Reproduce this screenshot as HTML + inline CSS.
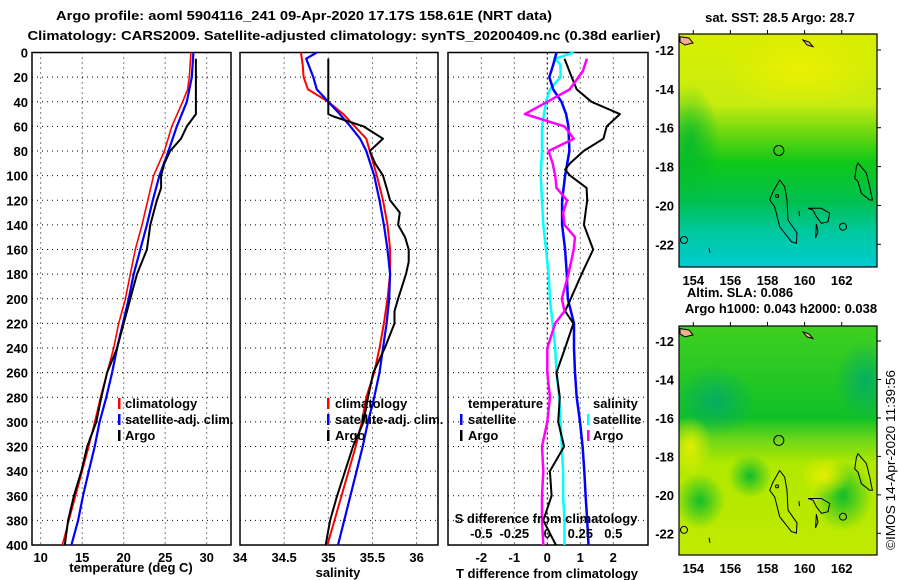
<!DOCTYPE html>
<html><head><meta charset="utf-8"><style>
html,body{margin:0;padding:0;background:#fff;}
svg{display:block;font-family:"Liberation Sans",Arial,sans-serif;}
.t{font-weight:bold;font-size:13px;fill:#000;}
</style></head><body>
<svg id="c" width="900" height="580" viewBox="0 0 900 580" xmlns="http://www.w3.org/2000/svg">
<defs>
<clipPath id="clipTop"><rect x="679" y="34" width="198" height="233"/></clipPath>
<clipPath id="clipBot"><rect x="679" y="326" width="198" height="229"/></clipPath>
<linearGradient id="sstg" x1="0" y1="0" x2="0" y2="1">
<stop offset="0" stop-color="#d8ee00"/><stop offset="0.3" stop-color="#c8ec10"/><stop offset="0.42" stop-color="#70d810"/>
<stop offset="0.55" stop-color="#10c818"/><stop offset="0.72" stop-color="#00c050"/><stop offset="0.85" stop-color="#00c8a0"/><stop offset="1" stop-color="#00ccd0"/></linearGradient>
<radialGradient id="sy" cx="0.5" cy="0.5" r="0.5"><stop offset="0" stop-color="#eef000" stop-opacity="0.9"/><stop offset="1" stop-color="#eef000" stop-opacity="0"/></radialGradient>
<radialGradient id="sg" cx="0.5" cy="0.5" r="0.5"><stop offset="0" stop-color="#00b830" stop-opacity="0.9"/><stop offset="1" stop-color="#00b830" stop-opacity="0"/></radialGradient>
<radialGradient id="sdg" cx="0.5" cy="0.5" r="0.5"><stop offset="0" stop-color="#00a870" stop-opacity="0.8"/><stop offset="1" stop-color="#00a870" stop-opacity="0"/></radialGradient>
<linearGradient id="slag" x1="0" y1="0" x2="0" y2="1">
<stop offset="0" stop-color="#40d020"/><stop offset="0.4" stop-color="#10c028"/><stop offset="0.5" stop-color="#70d818"/><stop offset="0.6" stop-color="#b0e800"/><stop offset="1" stop-color="#c0ea00"/></linearGradient>
<g id="coast" fill="none" stroke="#000" stroke-width="1">
<path d="M100.7,146 L105.7,152.7 L108,166 L109,186 L118,199 L117.4,209.3 L112.4,207.7 L100.7,192.7 L95.7,172.7 L90.7,166 L94,157.7 Z"/>
<path d="M179,129 L187.4,139 L190.7,152.7 L193.4,166 L190.7,166 L182.4,159.3 L179,147.7 L175.7,144.3 L177.4,132.7 Z"/>
<path d="M129,174.3 L142.4,174.3 L150.7,179.3 L149,187.7 L142.4,189.3 L137.4,182.7 L134,176 Z"/>
<path d="M137.4,190 L139,198 L136.5,204 Z"/>
<circle cx="164" cy="192.7" r="3.5"/><circle cx="5" cy="206" r="3.5"/><circle cx="98" cy="162" r="1.5"/>
<path d="M1,2.7 L10,4 L14,9 L6,11 L1,8 Z" fill="#f0b090"/>
<path d="M124,6 L130,8 L134,12.7 L128,11 Z" fill="#f0b090"/>
<path d="M120,177 L120.5,182"/><path d="M30,214 L31,219"/>
</g>
</defs>
<text class="t" x="304" y="20" text-anchor="middle" textLength="496" lengthAdjust="spacingAndGlyphs">Argo profile: aoml 5904116_241 09-Apr-2020 17.17S 158.61E (NRT data)</text>
<text class="t" x="344" y="40" text-anchor="middle" textLength="633" lengthAdjust="spacingAndGlyphs">Climatology: CARS2009. Satellite-adjusted climatology: synTS_20200409.nc (0.38d earlier)</text>
<g id="plots"></g>
<g id="maps"></g>
<text x="895" y="460" font-size="13" text-anchor="middle" transform="rotate(-90 895 460)" textLength="180" lengthAdjust="spacingAndGlyphs">©IMOS 14-Apr-2020 11:39:56</text>
</svg>
<script>
// ---- data ----
const depthTick=[0,20,40,60,80,100,120,140,160,180,200,220,240,260,280,300,320,340,360,380,400];
const tempTicks=[10,15,20,25,30];
const salTicks=[34,34.5,35,35.5,36];
const tdTicks=[-2,-1,0,1,2];
const sdTicks=[-0.5,-0.25,0,0.25,0.5];
const zClim=[0,20,30,40,60,80,100,120,140,160,180,200,220,240,260,280,300,320,340,360,380,400];
const tClim=[28.1,27.9,27.7,27.1,25.8,24.9,23.6,22.9,22.2,21.4,20.8,20.2,19.4,18.8,18.0,17.2,16.5,15.8,15.0,14.2,13.4,12.6];
const zSat=[0,20,40,60,80,100,120,140,160,180,200,220,240,260,280,300,320,340,360,380,400];
const tSat=[28.4,28.2,27.6,26.4,25.4,24.3,23.5,22.8,22.0,21.2,20.6,19.9,19.2,18.6,17.9,17.1,16.5,15.8,15.1,14.5,13.7];
const zArgoT=[5,50,60,70,80,90,100,110,120,140,160,180,200,220,240,260,280,300,320,340,360,380,400];
const tArgo=[28.7,28.7,27.6,26.9,25.6,24.9,24.5,24.5,24.0,23.2,22.8,21.6,20.8,20.0,19.2,18.0,17.3,16.7,15.6,14.9,14.0,13.3,12.9];
const zSClim=[0,10,20,30,40,50,60,70,80,100,120,140,160,180,200,220,240,260,280,300,320,340,360,380,400];
const sClim=[34.69,34.71,34.72,34.77,35.0,35.17,35.30,35.43,35.47,35.55,35.62,35.67,35.70,35.70,35.67,35.63,35.58,35.52,35.43,35.38,35.31,35.23,35.15,35.07,34.99];
const zSSat=[0,5,20,30,40,50,60,70,80,100,120,140,160,180,200,220,240,260,280,300,320,340,360,380,400];
const sSat=[34.87,34.75,34.83,34.87,35.0,35.13,35.25,35.36,35.43,35.52,35.58,35.63,35.67,35.70,35.69,35.66,35.62,35.58,35.52,35.45,35.39,35.32,35.25,35.18,35.11];
const zArgoS=[5,50,52,60,70,80,90,100,110,120,130,140,150,160,170,180,200,210,220,240,260,280,300,320,340,360,380,400];
const sArgo=[35.0,35.0,35.06,35.40,35.62,35.47,35.53,35.62,35.66,35.70,35.81,35.79,35.87,35.91,35.91,35.88,35.79,35.75,35.75,35.64,35.51,35.45,35.40,35.28,35.19,35.10,35.02,34.97];
const tdSat=[0.28,0.18,0.06,0.18,0.43,0.57,0.64,0.67,0.54,0.45,0.45,0.54,0.59,0.62,0.81,0.81,0.84,0.89,0.99,1.07,1.12,1.16,1.21,1.25];
const zTdSat=[0,10,20,30,40,50,60,80,100,120,140,160,180,200,220,240,260,280,300,320,340,360,380,400];
const zTdArgo=[5,20,30,40,50,60,70,80,90,95,100,110,120,140,160,180,200,210,220,240,260,280,300,320,340,360,380,400];
const tdArgo=[0.52,0.74,0.89,1.34,2.2,1.8,1.7,1.1,0.69,0.54,0.69,1.19,1.21,1.11,1.39,1.04,0.71,0.54,0.79,0.54,0.28,0.38,0.33,0.51,0.08,0.13,-0.12,0.26];
const zSdArgo=[5,15,30,40,50,60,70,80,90,100,110,120,130,140,150,160,180,200,210,220,240,260,280,300,320,340,360,380,400];
const sdArgo=[0.30,0.27,0.17,0.0,-0.17,0.13,0.20,0.01,0.04,0.06,0.07,0.15,0.12,0.13,0.21,0.20,0.16,0.11,0.13,0.06,0.0,0.0,0.02,0.0,-0.04,-0.03,-0.04,-0.04,-0.03];
const zSdSat=[0,5,10,20,30,40,60,80,100,120,140,160,180,200,220,240,260,280,300,320,340,360,380,400];
const sdSat=[0.20,0.06,0.10,0.10,0.02,-0.01,-0.04,-0.04,-0.05,-0.04,-0.03,-0.01,0.01,0.02,0.04,0.06,0.07,0.09,0.10,0.11,0.12,0.12,0.13,0.13];
const mapLonTicks=[154,156,158,160,162];
const mapLatTicks=[-12,-14,-16,-18,-20,-22];
const argoLon=158.61, argoLat=-17.17;

// ---- helpers ----
const NS='http://www.w3.org/2000/svg';
const plots=document.getElementById('plots');
const maps=document.getElementById('maps');
function mk(tag,attrs,parent){const e=document.createElementNS(NS,tag);for(const k in attrs)e.setAttribute(k,attrs[k]);(parent||plots).appendChild(e);return e;}
const Y0=52.5,YB=545;
const yD=d=>Y0+d*(YB-Y0)/400;
const xT=t=>40.7+(t-10)*8.3;
const xS=s=>240+(s-34)*88.3;
const xTd=t=>547.3+t*33;
const xSd=s=>547.3+s*132;

function frame(x0,x1,name,xticks,xf,labels){
  const g=mk('g',{});
  
  
  depthTick.forEach(d=>{ if(d>0&&d<400){const l=mk('line',{x1:x0,x2:x1,y1:yD(d),y2:yD(d),stroke:'#000','stroke-width':1,'stroke-dasharray':'1,4'},g);
    
    }});
  xticks.forEach(v=>{const x=xf(v); if(x>x0+1&&x<x1-1){const l=mk('line',{x1:x,x2:x,y1:Y0,y2:YB,stroke:'#000','stroke-width':1,'stroke-dasharray':'1,4'},g);
    
    }});
  const r=mk('rect',{x:x0,y:Y0,width:x1-x0,height:YB-Y0,fill:'none',stroke:'#000','stroke-width':1.5},g);
  
  
  if(labels) xticks.forEach(v=>{const t=mk('text',{x:xf(v),y:562,'text-anchor':'middle',class:'t'},g);t.textContent=String(v);
    
    });
  return g;
}
function line(xs,zs,xf,color,w,name){
  const pts=xs.map((v,i)=>xf(v).toFixed(1)+','+yD(zs[i]).toFixed(1)).join(' ');
  const p=mk('polyline',{points:pts,fill:'none',stroke:color,'stroke-width':w,'stroke-linejoin':'round'});
  
  
}
function txt(x,y,s,name,anchor,parent){const t=mk('text',{x:x,y:y,class:'t','text-anchor':anchor||'start'},parent);t.textContent=s;
  
  return t;}
function mark(x,y,color,name){const r=mk('rect',{x:x,y:y-9,width:2.5,height:11,fill:color});
  
  }

// panel 1
frame(32,231,'temperature-panel',tempTicks,xT,true);
depthTick.forEach(d=>txt(28,yD(d)+5,String(d),'depth-tick-label','end'));
line(tClim,zClim,xT,'#ff0000',1.6,'temp-climatology-line');
line(tSat,zSat,xT,'#0000ff',2.2,'temp-satellite-line');
line(tArgo,zArgoT,xT,'#000',2,'temp-argo-line');
txt(131,572,'temperature (deg C)','temp-x-axis-title','middle');
// panel 2
frame(240,438,'salinity-panel',salTicks,xS,true);
line(sClim,zSClim,xS,'#ff0000',2,'sal-climatology-line');
line(sSat,zSSat,xS,'#0000ff',2.2,'sal-satellite-line');
line(sArgo,zArgoS,xS,'#000',2,'sal-argo-line');
txt(338,577,'salinity','sal-x-axis-title','middle');
// legends 1,2
[[118,125],[327,335]].forEach(([mx,tx],k)=>{
  mark(mx,407,'#ff0000','legend-mark-climatology');txt(tx,408,'climatology','legend-climatology');
  mark(mx,423,'#0000ff','legend-mark-satellite');txt(tx,424,'satellite-adj. clim.','legend-satellite');
  mark(mx,439,'#000','legend-mark-argo');txt(tx,440,'Argo','legend-argo');
});
// panel 3
frame(448,648,'difference-panel',tdTicks,xTd,true);
const z0=mk('line',{x1:xTd(0),x2:xTd(0),y1:Y0,y2:YB,stroke:'#000','stroke-width':1,'stroke-dasharray':'2,3'});


line(sdSat,zSdSat,xSd,'#00ffff',2.5,'sal-diff-satellite-line');
line(tdSat,zTdSat,xTd,'#0000ff',2.5,'temp-diff-satellite-line');
line(tdArgo,zTdArgo,xTd,'#000',2,'temp-diff-argo-line');
line(sdArgo,zSdArgo,xSd,'#ff00ff',2.5,'sal-diff-argo-line');
sdTicks.forEach(v=>txt(xSd(v),538,String(v),'s-diff-tick-label','middle'));
txt(546,523,'S difference from climatology','s-diff-axis-title','middle');
txt(547,578,'T difference from climatology','t-diff-axis-title','middle');
txt(468,408,'temperature','legend-temperature-heading');
mark(460,423,'#0000ff','legend-mark-t-satellite');txt(468,424,'satellite','legend-t-satellite');
mark(460,439,'#000','legend-mark-t-argo');txt(468,440,'Argo','legend-t-argo');
txt(593,408,'salinity','legend-salinity-heading');
mark(587,423,'#00ffff','legend-mark-s-satellite');txt(593,424,'satellite','legend-s-satellite');
mark(587,439,'#ff00ff','legend-mark-s-argo');txt(593,440,'Argo','legend-s-argo');

// maps
function map(y0,y1,latTop,latScale,name,sla,clip){
  const X0=679,X1=877;
  const g=mk('g',{},maps);
  
  
  const xL=lon=>693.3+(lon-154)*18.55;
  const yL=lat=>latTop+(-12-lat)*latScale;
  const f=mk('g',{'clip-path':`url(#${clip})`},g);
  mk('rect',{x:X0,y:y0,width:X1-X0,height:y1-y0,fill:sla?'url(#slag)':'url(#sstg)'},f);
  if(!sla){
    mk('ellipse',{cx:800,cy:y0+35,rx:80,ry:40,fill:'url(#sy)'},f);
    mk('ellipse',{cx:690,cy:y0+110,rx:30,ry:60,fill:'url(#sg)'},f);
  }else{
    mk('ellipse',{cx:715,cy:y0+75,rx:40,ry:35,fill:'url(#sdg)'},f);
    mk('ellipse',{cx:865,cy:y0+55,rx:30,ry:40,fill:'url(#sdg)'},f);
    mk('ellipse',{cx:700,cy:y0+175,rx:25,ry:28,fill:'url(#sg)'},f);
    mk('ellipse',{cx:750,cy:y0+150,rx:22,ry:22,fill:'url(#sg)'},f);
    mk('ellipse',{cx:843,cy:y0+170,rx:30,ry:35,fill:'url(#sg)'},f);
    mk('ellipse',{cx:690,cy:y0+120,rx:22,ry:30,fill:'url(#sy)'},f);
    mk('ellipse',{cx:825,cy:y0+150,rx:25,ry:20,fill:'url(#sy)'},f);
  }
  mk('use',{href:'#coast',transform:`translate(679,${y0}) scale(1,${latScale/19.43})`},f);
  const c=mk('circle',{cx:xL(argoLon),cy:yL(argoLat),r:5,fill:'none',stroke:'#000','stroke-width':1},g);
  
  
  mk('rect',{x:X0,y:y0,width:X1-X0,height:y1-y0,fill:'none',stroke:'#000','stroke-width':1.2},g);
  mapLonTicks.forEach(lon=>{mk('line',{x1:xL(lon),x2:xL(lon),y1:y0-4,y2:y0,stroke:'#000'},g);
    const t=mk('text',{x:xL(lon),y:y1+18,'text-anchor':'middle',class:'t'},g);t.textContent=String(lon);
    
    });
  mapLatTicks.forEach(lat=>{mk('line',{x1:X1,x2:X1+4,y1:yL(lat),y2:yL(lat),stroke:'#000'},g);
    const t=mk('text',{x:674,y:yL(lat)+5,'text-anchor':'end',class:'t'},g);t.textContent=String(lat);
    
    });
}
map(34,267,50,19.43,'sst-map',false,'clipTop');
map(326,555,341,19.23,'sla-map',true,'clipBot');
txt(780,22,'sat. SST: 28.5 Argo: 28.7','sst-map-title','middle',maps);
txt(740,297,'Altim. SLA: 0.086','sla-title','middle',maps);
txt(781,313,'Argo h1000: 0.043 h2000: 0.038','steric-height-title','middle',maps);
</script>
</body></html>
